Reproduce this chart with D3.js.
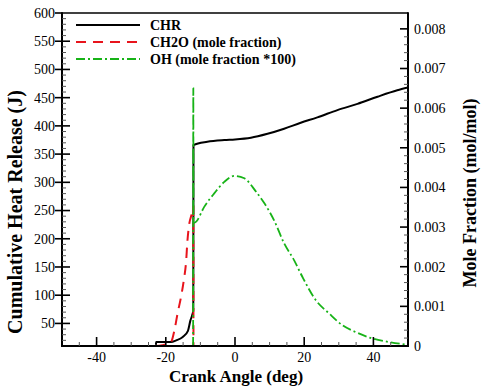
<!DOCTYPE html>
<html><head><meta charset="utf-8">
<script src="https://cdn.jsdelivr.net/npm/d3@7"></script>
<style>body{margin:0;background:#fff}svg{display:block}
svg text{font-family:"Liberation Serif","Times New Roman","DejaVu Serif",serif}</style>
</head><body>
<svg id="c" width="481" height="389"></svg>
<script>
// ---- data ----
const chrAngle = [-22.85, -22.8, -18.5, -17.0, -15.1, -13.6, -12.9, -12.4, -12.05, -12.0, -8.0, -3.1, 0.0, 4.6, 9.4, 14.2, 19.0, 23.8, 29.6, 35.4, 41.2, 46.9, 50];
const chrValue = [12, 17, 17, 20, 26, 37, 55, 64, 73, 366, 372, 375, 376, 379, 386, 395, 405.6, 415, 428, 439, 451.6, 463, 468];

const ch2oAngle = [-23.0, -21.0, -18.5, -17.5, -16.6, -15.6, -14.8, -14.1, -13.8, -13.2, -12.6, -12.05, -12.0];
const ch2oValue = [0, 0.00002, 0.0001, 0.0004, 0.00082, 0.00124, 0.00166, 0.00217, 0.00259, 0.00309, 0.0033, 0.00351, 0];

const ohAngle = [-12.1, -12.05, -12.0, -11.3, -8.9, -6.0, -3.1, -0.2, 2.7, 6.1, 8.5, 11.3, 14.2, 17.1, 19.5, 23.4, 27.2, 31.1, 34.9, 39.7, 44.5, 50];
const ohValue = [0, 0.0065, 0.0031, 0.00313, 0.00351, 0.00385, 0.00414, 0.00429, 0.00423, 0.00389, 0.0036, 0.00317, 0.00259, 0.00216, 0.00174, 0.00115, 0.00082, 0.00052, 0.00035, 0.00019, 0.0001, 0.00003];

const xTicks = [-40, -20, 0, 20, 40];
const yLeftTicks = [50, 100, 150, 200, 250, 300, 350, 400, 450, 500, 550, 600];
const yRightTicks = [0, 0.001, 0.002, 0.003, 0.004, 0.005, 0.006, 0.007, 0.008];
const legendLabels = ["CHR", "CH2O (mole fraction)", "OH (mole fraction *100)"];

// ---- layout ----
const L = 62, R = 408, T = 13, B = 346;
const svg = d3.select("#c");

const x = d3.scaleLinear().domain([-50, 50]).range([L, R]);
const yL = d3.scaleLinear().domain([10, 600]).range([B, T]);
const yR = d3.scaleLinear().domain([0, 0.0084]).range([B, T]);

svg.append("defs").append("clipPath").attr("id", "clip")
  .append("rect").attr("x", L).attr("y", T).attr("width", R - L).attr("height", B - T);

const g = svg.append("g").attr("clip-path", "url(#clip)");

const toPts = (xs, ys) => xs.map((v, i) => [v, ys[i]]);
const lineL = d3.line().x(d => x(d[0])).y(d => yL(d[1])).curve(d3.curveMonotoneX);
const lineR = d3.line().x(d => x(d[0])).y(d => yR(d[1])).curve(d3.curveMonotoneX);

const styles = [
  {color: "#000", dash: null, w: 2},
  {color: "#e8141c", dash: "10,7", w: 2},
  {color: "#17b317", dash: "9,3,2,3", w: 1.8}
];

g.append("path").attr("d", lineL(toPts(chrAngle, chrValue)))
  .attr("fill", "none").attr("stroke", styles[0].color).attr("stroke-width", styles[0].w);
g.append("path").attr("d", lineR(toPts(ch2oAngle, ch2oValue)))
  .attr("fill", "none").attr("stroke", styles[1].color).attr("stroke-width", styles[1].w)
  .attr("stroke-dasharray", styles[1].dash);
g.append("path").attr("d", lineR(toPts(ohAngle, ohValue)))
  .attr("fill", "none").attr("stroke", styles[2].color).attr("stroke-width", styles[2].w)
  .attr("stroke-dasharray", styles[2].dash);

// ---- axes ----
const ax = svg.append("g").attr("stroke", "#000");
ax.append("line").attr("x1", L).attr("x2", R).attr("y1", T).attr("y2", T).attr("stroke-width", 1.5);
ax.append("line").attr("x1", L).attr("x2", L).attr("y1", T - 0.75).attr("y2", B + 1).attr("stroke-width", 2);
ax.append("line").attr("x1", R).attr("x2", R).attr("y1", T - 0.75).attr("y2", B + 1).attr("stroke-width", 2);
ax.append("line").attr("x1", L - 1).attr("x2", R + 1).attr("y1", B).attr("y2", B).attr("stroke-width", 2);

d3.range(-45, 50, 5).forEach(v => {
  const major = xTicks.includes(v);
  ax.append("line").attr("x1", x(v)).attr("x2", x(v)).attr("y1", B).attr("y2", B - (major ? 9 : 4))
    .attr("stroke-width", major ? 1.6 : 1).attr("stroke", major ? "#000" : "#555");
});
svg.append("g").selectAll("text").data(xTicks).join("text")
  .attr("x", d => x(d)).attr("y", 362).attr("text-anchor", "middle")
  .attr("font-size", 14).text(d => d);

d3.range(20, 600, 10).forEach(v => {
  const major = v % 50 === 0;
  if (major) {
    ax.append("line").attr("x1", L - 7).attr("x2", L + 8).attr("y1", yL(v)).attr("y2", yL(v)).attr("stroke-width", 1.6);
  } else {
    ax.append("line").attr("x1", L).attr("x2", L + 4).attr("y1", yL(v)).attr("y2", yL(v)).attr("stroke-width", 1).attr("stroke", "#555");
  }
});
ax.append("line").attr("x1", L - 7).attr("x2", L).attr("y1", yL(600)).attr("y2", yL(600)).attr("stroke-width", 1.6);
svg.append("g").selectAll("text").data(yLeftTicks).join("text")
  .attr("x", 55).attr("y", d => yL(d)).attr("dy", "0.35em").attr("text-anchor", "end")
  .attr("font-size", 14).text(d => d);

d3.range(0, 41).forEach(i => {
  const v = i * 0.0002;
  const major = i % 5 === 0;
  ax.append("line").attr("x1", R).attr("x2", R - (major ? 8 : 4)).attr("y1", yR(v)).attr("y2", yR(v))
    .attr("stroke-width", major ? 1.6 : 1).attr("stroke", major ? "#000" : "#555");
});
svg.append("g").selectAll("text").data(yRightTicks).join("text")
  .attr("x", 414).attr("y", d => yR(d)).attr("dy", "0.35em").attr("text-anchor", "start")
  .attr("font-size", 14).text(d => d === 0 ? "0" : d3.format(".3f")(d));

svg.append("text").attr("x", 236).attr("y", 382).attr("text-anchor", "middle")
  .attr("font-size", 17).attr("font-weight", "bold").text("Crank Angle (deg)");
svg.append("text").attr("transform", "translate(22,212) rotate(-90)").attr("text-anchor", "middle")
  .attr("font-size", 20).attr("font-weight", "bold").text("Cumulative Heat Release (J)");
svg.append("text").attr("transform", "translate(476,193) rotate(-90)").attr("text-anchor", "middle")
  .attr("font-size", 18).attr("font-weight", "bold").text("Mole Fraction (mol/mol)");

const legY = [25, 42, 59];
legendLabels.forEach((lab, i) => {
  const s = styles[i];
  svg.append("line").attr("x1", 76).attr("x2", 140).attr("y1", legY[i]).attr("y2", legY[i])
    .attr("stroke", s.color).attr("stroke-width", s.w).attr("stroke-dasharray", s.dash);
  svg.append("text").attr("x", 150).attr("y", legY[i] + 5)
    .attr("font-size", 14).attr("font-weight", "bold").text(lab);
});
</script>
</body></html>
